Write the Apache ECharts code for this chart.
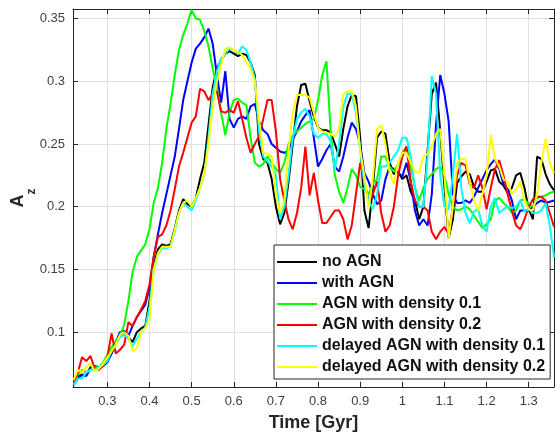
<!DOCTYPE html>
<html>
<head>
<meta charset="utf-8">
<title>A_z over time</title>
<script src="https://cdn.jsdelivr.net/npm/echarts@6/dist/echarts.min.js"></script>
<style>
  html, body { margin: 0; padding: 0; background: #fff; }
  #chart { width: 555px; height: 436px; }
</style>
</head>
<body>
<div id="chart"></div>
<script>
// time axis samples [Gyr]
const time = [
  0.22, 0.23, 0.24, 0.25, 0.26, 0.27, 0.28, 0.29, 0.30, 0.31,
  0.32, 0.33, 0.34, 0.35, 0.36, 0.37, 0.38, 0.39, 0.40, 0.41,
  0.42, 0.43, 0.44, 0.45, 0.46, 0.47, 0.48, 0.49, 0.50, 0.51,
  0.52, 0.53, 0.54, 0.55, 0.56, 0.57, 0.58, 0.59, 0.60, 0.61,
  0.62, 0.63, 0.64, 0.65, 0.66, 0.67, 0.68, 0.69, 0.70, 0.71,
  0.72, 0.73, 0.74, 0.75, 0.76, 0.77, 0.78, 0.79, 0.80, 0.81,
  0.82, 0.83, 0.84, 0.85, 0.86, 0.87, 0.88, 0.89, 0.90, 0.91,
  0.92, 0.93, 0.94, 0.95, 0.96, 0.97, 0.98, 0.99, 1.00, 1.01,
  1.02, 1.03, 1.04, 1.05, 1.06, 1.07, 1.08, 1.09, 1.10, 1.11,
  1.12, 1.13, 1.14, 1.15, 1.16, 1.17, 1.18, 1.19, 1.20, 1.21,
  1.22, 1.23, 1.24, 1.25, 1.26, 1.27, 1.28, 1.29, 1.30, 1.31,
  1.32, 1.33, 1.34, 1.35, 1.36
];

const noAgn = [
  0.058, 0.065, 0.066, 0.066, 0.072, 0.072, 0.071, 0.075, 0.078, 0.083,
  0.092, 0.098, 0.100, 0.096, 0.092, 0.100, 0.103, 0.105, 0.125, 0.153,
  0.166, 0.170, 0.169, 0.170, 0.183, 0.197, 0.206, 0.202, 0.200, 0.207,
  0.222, 0.235, 0.265, 0.295, 0.310, 0.317, 0.322, 0.324, 0.322, 0.320,
  0.322, 0.321, 0.315, 0.305, 0.250, 0.238, 0.235, 0.222, 0.200, 0.186,
  0.195, 0.220, 0.250, 0.280, 0.297, 0.298, 0.284, 0.272, 0.263, 0.261,
  0.261, 0.259, 0.250, 0.240, 0.262, 0.280, 0.289, 0.288, 0.255, 0.197,
  0.183, 0.215, 0.255, 0.260, 0.258, 0.235, 0.226, 0.228, 0.222, 0.225,
  0.212, 0.205, 0.190, 0.200, 0.245, 0.290, 0.299, 0.260, 0.216, 0.175,
  0.190, 0.219, 0.224, 0.228, 0.226, 0.216, 0.212, 0.212, 0.220, 0.229,
  0.230, 0.220, 0.217, 0.211, 0.215, 0.225, 0.227, 0.215, 0.198, 0.190,
  0.240, 0.238, 0.226, 0.218, 0.213
];

const withAgn = [
  0.058, 0.063, 0.066, 0.065, 0.071, 0.073, 0.072, 0.073, 0.076, 0.083,
  0.092, 0.100, 0.101, 0.097, 0.105, 0.112, 0.117, 0.122, 0.135, 0.160,
  0.178, 0.195, 0.210, 0.225, 0.240, 0.262, 0.285, 0.300, 0.315, 0.326,
  0.330, 0.335, 0.342, 0.330, 0.305, 0.283, 0.308, 0.270, 0.263, 0.270,
  0.272, 0.270, 0.280, 0.282, 0.268, 0.261, 0.258, 0.250, 0.247, 0.244,
  0.243, 0.245, 0.254, 0.260, 0.268, 0.273, 0.277, 0.255, 0.232, 0.238,
  0.245, 0.250, 0.232, 0.228, 0.240, 0.255, 0.267, 0.262, 0.250, 0.227,
  0.220, 0.210, 0.202, 0.205, 0.222, 0.232, 0.230, 0.227, 0.224, 0.235,
  0.220, 0.197, 0.185, 0.190, 0.185, 0.210, 0.265, 0.305, 0.290, 0.268,
  0.210, 0.203, 0.203, 0.205, 0.203, 0.208, 0.215, 0.222, 0.229, 0.234,
  0.238, 0.230, 0.218, 0.214, 0.205, 0.190, 0.197, 0.197, 0.197, 0.200,
  0.203, 0.205, 0.203, 0.204, 0.205
];

const density01 = [
  0.060, 0.066, 0.070, 0.068, 0.070, 0.072, 0.072, 0.076, 0.082, 0.088,
  0.093, 0.097, 0.106, 0.125, 0.148, 0.160, 0.165, 0.170, 0.182, 0.203,
  0.215, 0.235, 0.262, 0.282, 0.305, 0.325, 0.337, 0.346, 0.357, 0.350,
  0.349, 0.340, 0.328, 0.310, 0.295, 0.275, 0.257, 0.275, 0.285, 0.286,
  0.283, 0.281, 0.255, 0.235, 0.232, 0.234, 0.240, 0.235, 0.230, 0.227,
  0.235, 0.250, 0.257, 0.260, 0.263, 0.266, 0.268, 0.270, 0.285, 0.305,
  0.316, 0.260, 0.225, 0.212, 0.203, 0.215, 0.230, 0.225, 0.216, 0.214,
  0.210, 0.218, 0.222, 0.240, 0.240, 0.232, 0.228, 0.234, 0.243, 0.248,
  0.232, 0.215, 0.205, 0.215, 0.222, 0.226, 0.230, 0.232, 0.225, 0.210,
  0.200, 0.197, 0.198, 0.200, 0.198, 0.193, 0.188, 0.183, 0.186, 0.190,
  0.205, 0.207, 0.203, 0.200, 0.195, 0.197, 0.205, 0.206, 0.202, 0.200,
  0.207, 0.208, 0.209, 0.211, 0.212
];

const density02 = [
  0.060, 0.068, 0.080, 0.077, 0.081, 0.071, 0.070, 0.073, 0.080, 0.099,
  0.083, 0.086, 0.090, 0.108, 0.105, 0.112, 0.118, 0.125, 0.138, 0.160,
  0.176, 0.178, 0.185, 0.197, 0.214, 0.232, 0.243, 0.255, 0.267, 0.272,
  0.294, 0.292, 0.285, 0.290, 0.292, 0.276, 0.275, 0.277, 0.275, 0.284,
  0.270, 0.255, 0.243, 0.250, 0.256, 0.270, 0.285, 0.285, 0.260, 0.222,
  0.205, 0.190, 0.182, 0.195, 0.215, 0.248, 0.209, 0.227, 0.205, 0.187,
  0.187, 0.192, 0.197, 0.197, 0.190, 0.174, 0.185, 0.210, 0.235, 0.220,
  0.205, 0.210, 0.220, 0.195, 0.180, 0.185, 0.200, 0.225, 0.240, 0.248,
  0.220, 0.205, 0.200, 0.200, 0.197, 0.180, 0.174, 0.180, 0.184, 0.178,
  0.200, 0.225, 0.235, 0.233, 0.218, 0.215, 0.225, 0.215, 0.198, 0.215,
  0.230, 0.237, 0.225, 0.210, 0.197, 0.185, 0.182, 0.190, 0.200, 0.206,
  0.208, 0.208, 0.205, 0.195, 0.184
];

const delayed01 = [
  0.058, 0.063, 0.063, 0.068, 0.070, 0.070, 0.072, 0.074, 0.077, 0.085,
  0.090, 0.096, 0.098, 0.095, 0.089, 0.095, 0.100, 0.104, 0.120, 0.150,
  0.162, 0.167, 0.167, 0.168, 0.180, 0.195, 0.203, 0.200, 0.197, 0.205,
  0.215, 0.225, 0.255, 0.290, 0.308, 0.318, 0.322, 0.326, 0.325, 0.322,
  0.328, 0.325, 0.315, 0.302, 0.260, 0.240, 0.236, 0.232, 0.225, 0.190,
  0.200, 0.225, 0.255, 0.270, 0.275, 0.278, 0.272, 0.258, 0.255, 0.258,
  0.258, 0.252, 0.230, 0.250, 0.280, 0.290, 0.290, 0.275, 0.245, 0.218,
  0.205, 0.198, 0.210, 0.232, 0.232, 0.235, 0.240, 0.245, 0.255, 0.255,
  0.240, 0.215, 0.200, 0.200, 0.240, 0.304, 0.290, 0.225, 0.200, 0.198,
  0.225, 0.258, 0.215, 0.195, 0.187, 0.196, 0.198, 0.185, 0.180, 0.200,
  0.207, 0.195, 0.198, 0.200, 0.199, 0.200, 0.205, 0.196, 0.198, 0.195,
  0.195, 0.197, 0.203, 0.185, 0.160
];

const delayed02 = [
  0.062, 0.070, 0.068, 0.072, 0.075, 0.069, 0.071, 0.075, 0.080, 0.085,
  0.090, 0.098, 0.100, 0.097, 0.085, 0.087, 0.100, 0.103, 0.110, 0.150,
  0.163, 0.168, 0.168, 0.168, 0.182, 0.195, 0.203, 0.205, 0.200, 0.207,
  0.215, 0.226, 0.250, 0.280, 0.300, 0.313, 0.326, 0.327, 0.325, 0.323,
  0.321, 0.315, 0.310, 0.300, 0.270, 0.243, 0.242, 0.240, 0.210, 0.195,
  0.205, 0.245, 0.275, 0.289, 0.289, 0.289, 0.287, 0.275, 0.263, 0.260,
  0.259, 0.258, 0.256, 0.262, 0.290, 0.292, 0.292, 0.280, 0.245, 0.225,
  0.198, 0.222, 0.262, 0.265, 0.250, 0.227, 0.218, 0.235, 0.243, 0.243,
  0.235, 0.228, 0.227, 0.240, 0.242, 0.248, 0.258, 0.262, 0.225, 0.175,
  0.200, 0.235, 0.238, 0.238, 0.220, 0.205, 0.197, 0.210, 0.225, 0.257,
  0.238, 0.232, 0.222, 0.220, 0.210, 0.214, 0.220, 0.205, 0.198, 0.197,
  0.210, 0.235, 0.254, 0.235, 0.227
];

const seriesNames = [
  'no AGN',
  'with AGN',
  'AGN with density 0.1',
  'AGN with density 0.2',
  'delayed AGN with density 0.1',
  'delayed AGN with density 0.2'
];
const seriesValues = [noAgn, withAgn, density01, density02, delayed01, delayed02];
const lineColors = ['#000000', '#0000ff', '#00ff00', '#ff0000', '#00ffff', '#ffff00'];

const xTicks = [0.3, 0.4, 0.5, 0.6, 0.7, 0.8, 0.9, 1, 1.1, 1.2, 1.3];
const yTicks = [0.1, 0.15, 0.2, 0.25, 0.3, 0.35];

const axisColor = '#262626';
const font = "'Liberation Sans', Arial, sans-serif";

// MATLAB style box: ticks inside on all four sides
function boxAxis(ticks, showLabels, range) {
  return {
    type: 'value',
    min: range[0],
    max: range[1],
    axisLine: { show: true, onZero: false, lineStyle: { color: axisColor, width: 1 } },
    axisTick: { show: true, inside: true, length: 5, customValues: ticks, lineStyle: { color: axisColor } },
    axisLabel: {
      show: showLabels,
      customValues: ticks,
      color: '#404040',
      fontSize: 13,
      fontFamily: font,
      margin: 8
    },
    splitLine: { show: showLabels, lineStyle: { color: '#dfdfdf', width: 1 } }
  };
}

const xRange = [0.2185, 1.36];
const yRange = [0.0563, 0.3576];

const chart = echarts.init(document.getElementById('chart'));

const option = {
  animation: false,
  backgroundColor: '#ffffff',
  grid: { left: 73, right: 1, top: 9, bottom: 49, containLabel: false, outerBoundsMode: 'none' },
  xAxis: [
    Object.assign(boxAxis(xTicks, true, xRange), {
      position: 'bottom',
      name: 'Time [Gyr]',
      nameLocation: 'middle',
      nameGap: 27,
      nameTextStyle: { fontSize: 18, fontWeight: 'bold', color: axisColor, fontFamily: font }
    }),
    Object.assign(boxAxis(xTicks, false, xRange), { position: 'top' })
  ],
  yAxis: [
    Object.assign(boxAxis(yTicks, true, yRange), {
      position: 'left',
      name: '{a|A}{s|z}',
      nameLocation: 'middle',
      nameRotate: 90,
      nameGap: 35,
      nameMoveOverlap: false,
      nameTextStyle: {
        fontFamily: font,
        color: axisColor,
        rich: {
          a: { fontSize: 18, fontWeight: 'bold', lineHeight: 40, verticalAlign: 'middle', color: axisColor, fontFamily: font },
          s: { fontSize: 12, fontWeight: 'bold', lineHeight: 12, verticalAlign: 'bottom', color: axisColor, fontFamily: font }
        }
      }
    }),
    Object.assign(boxAxis(yTicks, false, yRange), { position: 'right' })
  ],
  legend: {
    orient: 'vertical',
    left: 274,
    top: 245,
    data: seriesNames,
    icon: 'rect',
    itemWidth: 40,
    itemHeight: 2,
    itemGap: 5,
    padding: [9, 5, 4, 3],
    backgroundColor: '#ffffff',
    borderColor: axisColor,
    borderWidth: 1,
    borderRadius: 0,
    textStyle: { fontSize: 16, fontWeight: 'bold', color: '#111111', lineHeight: 16, fontFamily: font }
  },
  series: seriesNames.map(function (name, i) {
    return {
      name: name,
      type: 'line',
      xAxisIndex: 0,
      yAxisIndex: 0,
      symbol: 'none',
      data: time.map(function (t, j) { return [t, seriesValues[i][j]]; }),
      lineStyle: { color: lineColors[i], width: 2 },
      itemStyle: { color: lineColors[i] }
    };
  })
};

chart.setOption(option);
</script>
</body>
</html>
